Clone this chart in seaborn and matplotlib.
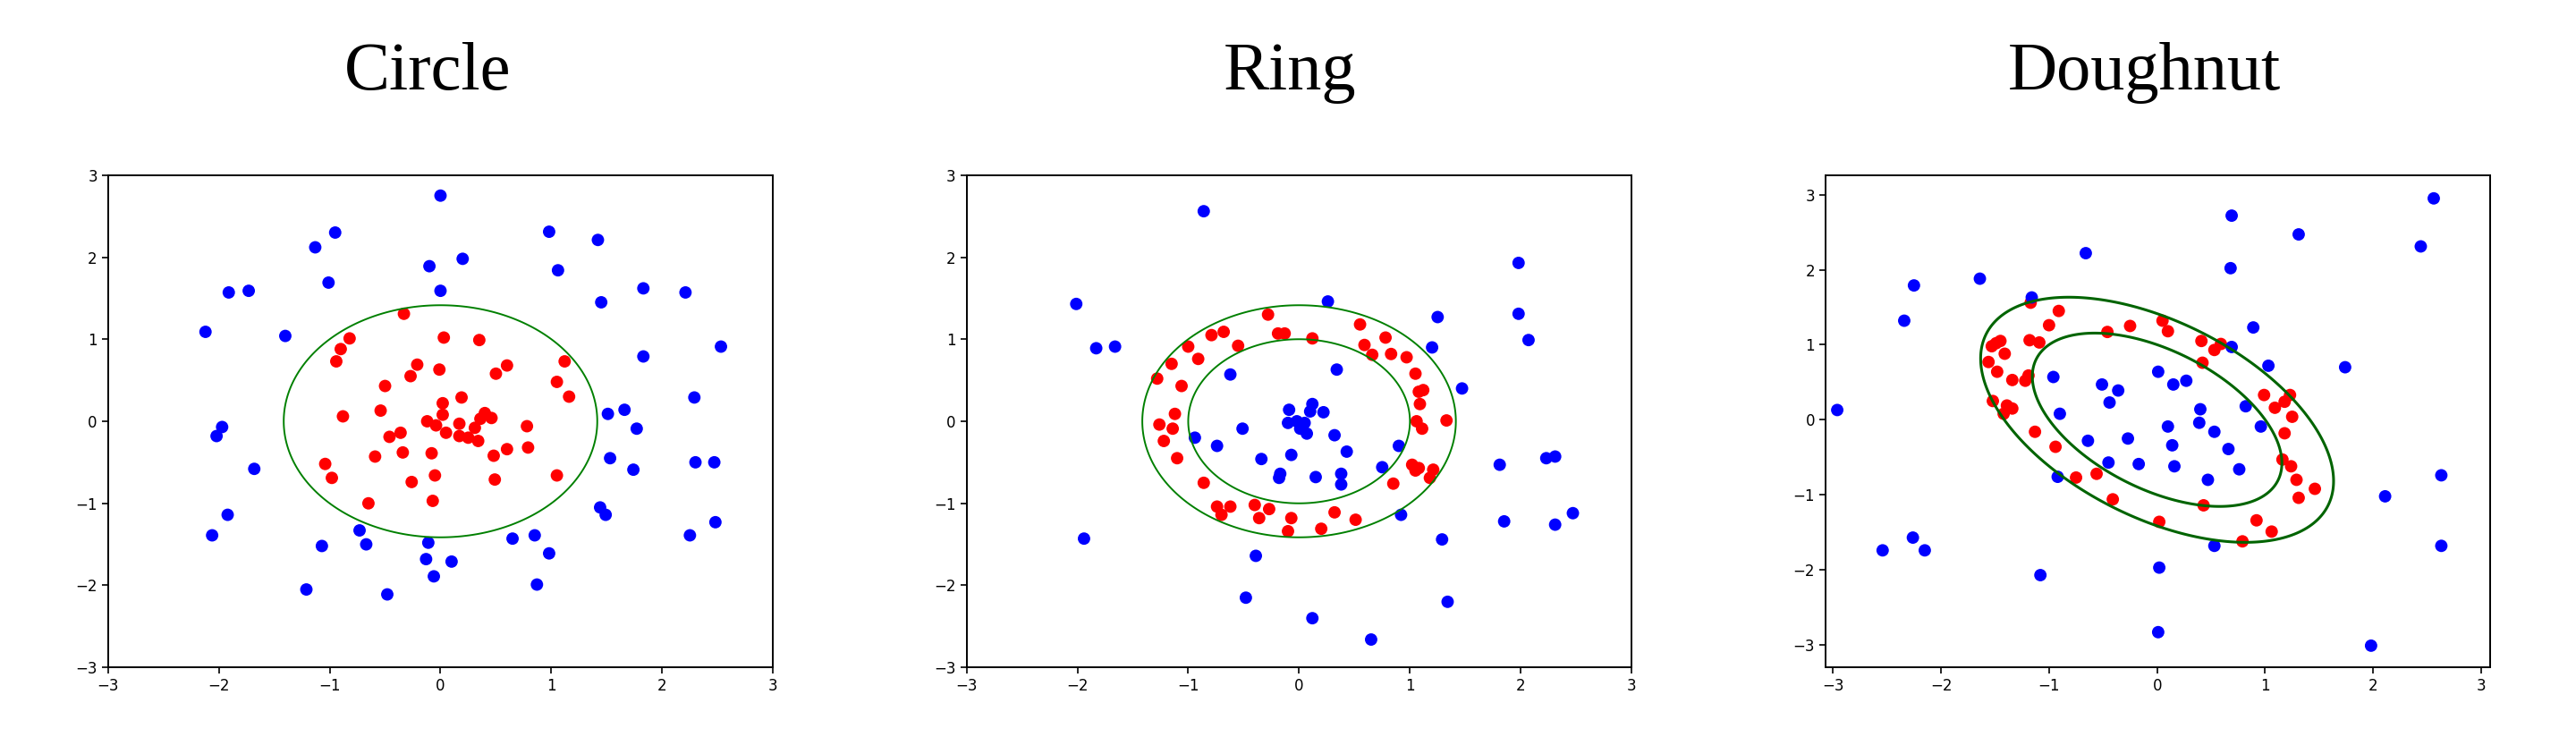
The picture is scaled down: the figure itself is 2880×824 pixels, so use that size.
import numpy as np
import pandas as pd
import matplotlib
matplotlib.use("Agg")
import matplotlib.pyplot as plt
import seaborn as sns

# Data
titles = ["Circle", "Ring", "Doughnut"]

circle_out_x = [0.0, -0.95, -1.13, -0.10, -1.91, -1.73, -1.01, 0.0, -2.12, -1.40, -1.97, -2.02, -1.68,
                -1.92, -2.06, -0.73, -0.67, -1.07, -0.11, -0.13, -0.06, 0.10, -1.21, -0.48,
                0.98, 1.42, 0.20, 1.06, 1.83, 2.21, 1.45, 2.53, 1.83, 2.29, 1.51, 1.66, 1.77,
                1.53, 1.74, 2.30, 2.47, 1.44, 1.49, 2.48, 2.25, 0.65, 0.85, 0.98, 0.87]
circle_out_y = [2.75, 2.30, 2.12, 1.89, 1.57, 1.59, 1.69, 1.59, 1.09, 1.04, -0.07, -0.18, -0.58,
                -1.14, -1.39, -1.33, -1.50, -1.52, -1.48, -1.68, -1.89, -1.71, -2.05, -2.11,
                2.31, 2.21, 1.98, 1.84, 1.62, 1.57, 1.45, 0.91, 0.79, 0.29, 0.09, 0.14, -0.09,
                -0.45, -0.59, -0.50, -0.50, -1.05, -1.14, -1.23, -1.39, -1.43, -1.39, -1.61, -1.99]
circle_in_x = [-0.33, -0.82, -0.90, -0.94, 0.03, -0.21, -0.27, -0.01, -0.50, -0.54, -0.88, 0.02,
               0.02, -0.12, -0.04, 0.05, -0.36, -0.46, -0.34, -0.59, -0.08, -1.04, -0.98, -0.05,
               -0.26, -0.65, -0.07, 0.35, 0.60, 0.50, 1.12, 1.05, 1.16, 0.19, 0.17, 0.17, 0.25,
               0.34, 0.31, 0.40, 0.46, 0.36, 0.78, 0.79, 0.60, 0.48, 0.49, 1.05]
circle_in_y = [1.31, 1.01, 0.88, 0.73, 1.02, 0.69, 0.55, 0.63, 0.43, 0.13, 0.06, 0.22,
               0.08, 0.0, -0.05, -0.14, -0.14, -0.19, -0.38, -0.43, -0.39, -0.52, -0.69, -0.66,
               -0.74, -1.00, -0.97, 0.99, 0.68, 0.58, 0.73, 0.48, 0.30, 0.29, -0.03, -0.18, -0.20,
               -0.24, -0.08, 0.10, 0.04, 0.03, -0.06, -0.32, -0.34, -0.42, -0.71, -0.66]

ring_out_x = [-0.86, -2.01, -1.83, -1.66, -0.62, -0.51, -0.94, -0.74, -0.34, -1.94, -0.39, -0.48,
              1.98, 0.26, 1.25, 1.98, 2.07, 1.20, 0.34, 1.47, -0.09, 0.12, 0.10, 0.22, -0.10,
              -0.02, 0.05, 0.01, 0.07, 0.32, 0.43, -0.07, -0.17, -0.18, 0.15, 0.38, 0.38, 0.90,
              0.75, 1.81, 2.23, 2.31, 0.92, 1.85, 2.31, 2.47, 1.29, 1.34, 0.12, 0.65]
ring_out_y = [2.56, 1.43, 0.89, 0.91, 0.57, -0.09, -0.20, -0.30, -0.46, -1.43, -1.64, -2.15,
              1.93, 1.46, 1.27, 1.31, 0.99, 0.90, 0.63, 0.40, 0.14, 0.21, 0.12, 0.11, -0.02,
              0.0, -0.02, -0.09, -0.15, -0.17, -0.37, -0.41, -0.64, -0.69, -0.68, -0.64, -0.77, -0.30,
              -0.56, -0.53, -0.45, -0.43, -1.14, -1.22, -1.26, -1.12, -1.44, -2.20, -2.40, -2.66]
ring_in_x = [-0.28, -0.79, -0.68, -0.55, -1.00, -0.91, -1.15, -1.28, -1.06, -1.12, -1.26, -1.14,
             -1.22, -1.10, -0.86, -0.74, -0.70, -0.62, -0.40, -0.36, -0.27, -0.19, -0.13, 0.12,
             0.55, 0.78, 0.59, 0.66, 0.83, 0.97, 1.05, 1.08, 1.12, 1.09, 1.06, 1.11, 1.33, 1.02,
             1.08, 1.05, 1.21, 1.18, 0.85, -0.07, -0.10, 0.32, 0.20, 0.51]
ring_in_y = [1.30, 1.05, 1.09, 0.92, 0.91, 0.76, 0.70, 0.52, 0.43, 0.09, -0.04, -0.09,
             -0.24, -0.45, -0.75, -1.04, -1.14, -1.04, -1.02, -1.18, -1.07, 1.07, 1.07, 1.01,
             1.18, 1.02, 0.93, 0.81, 0.82, 0.78, 0.58, 0.36, 0.38, 0.21, 0.0, -0.09, 0.01, -0.53,
             -0.57, -0.60, -0.59, -0.69, -0.76, -1.18, -1.34, -1.11, -1.31, -1.20]

dough_out_x = [-2.96, -0.66, -1.64, -2.25, -2.34, -1.16, -0.96, -0.51, -0.36, -0.44, -0.90, -0.64,
               -0.27, -0.45, -0.17, -0.92, -2.54, -2.26, -2.15, -1.08, 0.01, 0.02, 0.01, 0.69,
               1.31, 2.56, 2.44, 0.68, 0.89, 0.69, 1.03, 1.74, 0.15, 0.27, 0.82, 0.40, 0.39,
               0.10, 0.53, 0.96, 0.14, 0.66, 0.16, 0.76, 0.47, 2.63, 2.11, 0.53, 2.63, 1.98]
dough_out_y = [0.13, 2.22, 1.88, 1.79, 1.32, 1.63, 0.57, 0.47, 0.39, 0.23, 0.08, -0.28,
               -0.25, -0.57, -0.59, -0.76, -1.74, -1.57, -1.74, -2.07, 0.64, -1.97, -2.83, 2.72,
               2.47, 2.95, 2.31, 2.02, 1.23, 0.97, 0.72, 0.70, 0.47, 0.52, 0.18, 0.14, -0.04,
               -0.09, -0.16, -0.09, -0.34, -0.39, -0.62, -0.66, -0.80, -0.74, -1.02, -1.68, -1.68, -3.01]
dough_in_x = [-0.91, -1.00, -1.17, -0.46, -0.25, -1.49, -1.45, -1.53, -1.41, -1.18, -1.09, -1.56,
              -1.48, -1.34, -1.22, -1.19, -1.52, -1.39, -1.34, -1.42, -1.13, -0.94, -0.75, -0.56,
              -0.41, 0.02, 0.05, 0.10, 0.41, 0.53, 0.59, 0.42, 0.99, 1.09, 1.18, 1.23, 1.25,
              1.18, 1.16, 1.24, 1.29, 1.31, 1.46, 0.92, 1.06, 0.43, 0.79]
dough_in_y = [1.45, 1.26, 1.56, 1.17, 1.25, 1.02, 1.05, 0.98, 0.88, 1.06, 1.03, 0.77,
              0.64, 0.53, 0.52, 0.59, 0.25, 0.19, 0.15, 0.08, -0.16, -0.36, -0.77, -0.72,
              -1.06, -1.36, 1.32, 1.18, 1.05, 0.93, 1.01, 0.76, 0.33, 0.16, 0.24, 0.33, 0.04,
              -0.18, -0.53, -0.62, -0.80, -1.04, -0.92, -1.34, -1.49, -1.14, -1.62]

# boundary levels for each panel
circle_levels = [2]
ring_levels = [1, 2]
dough_levels = [1, 2]

sns.set_style("ticks", {"axes.edgecolor": "black", "xtick.color": "black",
                        "ytick.color": "black", "text.color": "black"})
plt.rcParams["font.family"] = ["DejaVu Sans"]

fig = plt.figure(figsize=(28.8, 8.24), dpi=100)
lefts = [0.0419, 0.3752, 0.7086]
axes = [fig.add_axes([l, 0.0944, 0.2582, 0.668]) for l in lefts]

groups = [
    (circle_in_x, circle_in_y, circle_out_x, circle_out_y),
    (ring_in_x, ring_in_y, ring_out_x, ring_out_y),
    (dough_in_x, dough_in_y, dough_out_x, dough_out_y),
]

for ax, (ix, iy, ox, oy) in zip(axes, groups):
    df = pd.concat([
        pd.DataFrame({"x": ix, "y": iy, "cls": "in"}),
        pd.DataFrame({"x": ox, "y": oy, "cls": "out"}),
    ], ignore_index=True)
    sns.scatterplot(data=df, x="x", y="y", hue="cls", palette={"in": "red", "out": "blue"},
                    s=100, linewidth=0, legend=False, ax=ax)

# green boundaries
g = np.linspace(-3.6, 3.6, 800)
X, Y = np.meshgrid(g, g)
axes[0].contour(X, Y, X**2 + Y**2, levels=circle_levels, colors="green", linewidths=1.4)
axes[1].contour(X, Y, X**2 + Y**2, levels=ring_levels, colors="green", linewidths=1.4)
axes[2].contour(X, Y, X**2 + X * Y + Y**2, levels=dough_levels, colors="darkgreen", linewidths=2.2)

for ax in axes[:2]:
    ax.set_xlim(-3, 3)
    ax.set_ylim(-3, 3)
axes[2].set_xlim(-3.07, 3.085)
axes[2].set_ylim(-3.30, 3.26)

for ax in axes:
    ax.set_xticks(range(-3, 4))
    ax.set_yticks(range(-3, 4))
    ax.set_xlabel("")
    ax.set_ylabel("")
    ax.tick_params(labelsize=12, length=5, width=1.2, labelcolor="black")
    for sp in ax.spines.values():
        sp.set_linewidth(1.4)

title_x = [478, 1442, 2397]
for t, tx in zip(titles, title_x):
    fig.text(tx / 2880, 1 - 100 / 824, t, fontsize=55, family="Liberation Serif",
             color="black", ha="center", va="baseline")

fig.savefig("out.png", dpi=100)
